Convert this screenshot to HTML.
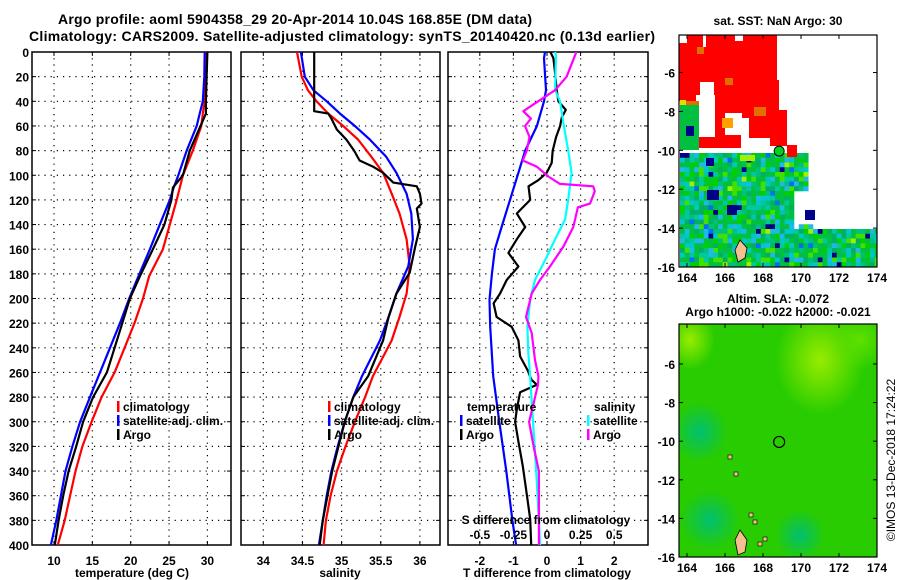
<!DOCTYPE html>
<html><head><meta charset="utf-8"><style>
html,body{margin:0;padding:0;background:#fff;}
svg{display:block;font-family:"Liberation Sans",Arial,sans-serif;font-weight:bold;}
</style></head><body>
<svg id="root" width="900" height="580" viewBox="0 0 900 580" xmlns="http://www.w3.org/2000/svg">
<defs>
<clipPath id="clip1"><rect x="679" y="35" width="198" height="232"/></clipPath>
<clipPath id="clip2"><rect x="679" y="324" width="198" height="233"/></clipPath>
</defs>
<text x="295" y="24" font-size="14" text-anchor="middle" textLength="474">Argo profile: aoml 5904358_29 20-Apr-2014 10.04S 168.85E (DM data)</text>
<text x="342" y="41" font-size="14" text-anchor="middle" textLength="626">Climatology: CARS2009. Satellite-adjusted climatology: synTS_20140420.nc (0.13d earlier)</text>
<g id="g"></g>
</svg>
<script>
// ---- Temperature panel data ----
const tDepth=[0,20,40,50,60,80,100,110,120,140,160,182,200,220,240,260,280,300,320,340,360,380,400];
const tClim=[29.9,29.8,29.65,29.4,29.2,28.1,26.8,26.4,26.0,25.1,24.2,22.4,21.6,20.5,19.2,17.9,16.2,14.9,13.7,12.8,12.1,11.4,10.5];
const tSat=[29.65,29.6,29.4,29.0,28.6,27.3,26.2,25.6,25.1,23.8,22.5,21.0,19.8,18.6,17.3,16.0,14.7,13.4,12.4,11.5,10.9,10.3,9.6];
const tArgo=[30.0,29.9,29.8,29.8,29.1,27.7,26.8,25.5,25.3,24.4,22.9,21.2,19.9,18.9,17.9,16.9,15.1,13.8,12.9,11.9,11.2,10.6,10.1];
const tTicks=[10,15,20,25,30];
// ---- Salinity panel data ----
const sDepth=[0,20,31,40,50,60,71,85,98,115,131,152,174,196,215,234,263,280,300,320,340,360,380,400];
const sClim=[34.43,34.49,34.57,34.68,34.83,35.02,35.21,35.38,35.53,35.64,35.74,35.83,35.87,35.83,35.74,35.64,35.4,35.3,35.17,35.05,34.94,34.86,34.8,34.77];
const sSat=[34.48,34.53,34.64,34.81,34.98,35.17,35.36,35.57,35.7,35.83,35.89,35.91,35.85,35.7,35.6,35.49,35.26,35.15,35.04,34.95,34.87,34.81,34.76,34.71];
const aDepth=[0,48,50,54,63,71,80,88,93,98,106,109,115,123,127,142,158,179,196,215,234,263,280,300,320,340,360,380,400];
const sArgo=[34.65,34.65,34.83,34.87,34.94,35.06,35.16,35.23,35.4,35.53,35.66,35.96,36.0,36.02,35.96,36.0,35.94,35.87,35.7,35.6,35.53,35.34,35.15,35.04,34.96,34.88,34.82,34.76,34.72];
const sTicks=[34,34.5,35,35.5,36];
const sTickLabels=["34","34.5","35","35.5","36"];
// ---- Difference panel data ----
const dDepth=[0,5,31,40,60,80,98,120,142,160,180,201,223,263,300,340,380,400];
const dTSat=[-0.06,-0.09,-0.03,-0.09,-0.3,-0.65,-0.85,-1.1,-1.35,-1.55,-1.64,-1.71,-1.69,-1.6,-1.42,-1.21,-1.03,-0.92];
const bDepth=[0,5,17,31,40,47,53,60,69,80,90,98,104,109,120,131,142,152,163,174,185,196,204,215,223,234,247,258,266,270,276,290,300,316,336,359,379,400];
const dTArgo=[0.1,0.19,0.24,0.29,0.34,0.56,0.44,0.39,0.27,0.17,0.14,-0.01,-0.26,-0.55,-0.5,-0.9,-0.65,-0.9,-1.15,-0.85,-1.2,-1.4,-1.59,-1.5,-1.05,-0.85,-0.8,-0.58,-0.46,-0.3,-0.8,-0.9,-0.95,-0.85,-0.72,-0.6,-0.5,-0.47];
const cDepth=[0,3,31,40,60,80,98,120,136,152,169,185,201,223,244,263,300,340,380,400];
const dSSat=[0.06,0.067,0.06,0.097,0.126,0.158,0.183,0.158,0.134,0.06,-0.015,-0.089,-0.126,-0.146,-0.139,-0.126,-0.104,-0.08,-0.06,-0.052];
const mDepth=[0,1,20,31,39,48,54,60,69,80,88,93,101,107,109,113,123,126,142,158,174,185,196,215,228,250,263,270,285,300,320,340,360,380,400];
const dSArgo=[0.215,0.215,0.146,0.06,-0.052,-0.176,-0.12,-0.163,-0.13,-0.15,-0.18,-0.077,0.01,0.097,0.344,0.356,0.32,0.23,0.196,0.121,0.022,-0.052,-0.114,-0.156,-0.114,-0.089,-0.064,-0.067,-0.1,-0.133,-0.1,-0.06,-0.06,-0.06,-0.06];
const dTicks=[-2,-1,0,1,2];
const dSTicks=[-0.5,-0.25,0,0.25,0.5];
const dSTickLabels=["-0.5","-0.25","0","0.25","0.5"];
const depthTicks=[0,20,40,60,80,100,120,140,160,180,200,220,240,260,280,300,320,340,360,380,400];
// ---- Map axes ----
const lonTicks=[164,166,168,170,172,174];
const latTicks1=[-6,-8,-10,-12,-14,-16];
const latTicks2=[-6,-8,-10,-12,-14,-16];
const floatLon=168.85, floatLat=-10.04;

const NS="http://www.w3.org/2000/svg";
const G=document.getElementById('g');
function mk(tag,attrs,parent,txt){const e=document.createElementNS(NS,tag);for(const k in attrs)e.setAttribute(k,attrs[k]);if(txt!==undefined)e.textContent=txt;(parent||G).appendChild(e);return e;}

const TOP=52,BOT=545;
const yD=d=>TOP+d*(BOT-TOP)/400;
const P1={l:32,r:231,x:v=>54+(v-10)*7.67};
const P2={l:241,r:440,x:v=>263.3+(v-34)*78.3};
const P3={l:448,r:648,x:v=>547+v*33.6};
const xS3=v=>547+v*134.4;

function frame(p,name){
  const g=mk('g',{});
  
  
  return g;
}
function grid(g,p,xt,fx){
  xt.forEach(v=>{const x=fx(v);mk('line',{x1:x,x2:x,y1:TOP,y2:BOT,stroke:'#000','stroke-width':1.2,'stroke-dasharray':'1.2,5'},g);
    mk('line',{x1:x,x2:x,y1:TOP,y2:TOP+4,stroke:'#000'},g);mk('line',{x1:x,x2:x,y1:BOT,y2:BOT-4,stroke:'#000'},g);});
  depthTicks.forEach(d=>{const y=yD(d);if(d>0&&d<400)mk('line',{x1:p.l,x2:p.r,y1:y,y2:y,stroke:'#000','stroke-width':1.2,'stroke-dasharray':'1.2,5'},g);
    mk('line',{x1:p.l,x2:p.l+4,y1:y,y2:y,stroke:'#000'},g);mk('line',{x1:p.r,x2:p.r-4,y1:y,y2:y,stroke:'#000'},g);});
  mk('rect',{x:p.l,y:TOP,width:p.r-p.l,height:BOT-TOP,fill:'none',stroke:'#000','stroke-width':1.5},g);
}
function line(g,xs,ds,fx,col,name){
  const pts=xs.map((v,i)=>fx(v).toFixed(1)+','+yD(ds[i]).toFixed(1)).join(' ');
  const e=mk('polyline',{points:pts,fill:'none',stroke:col,'stroke-width':2.2,'stroke-linejoin':'round'},g);
  
  
}
function legendItem(g,x,y,col,label,name){
  const it=mk('g',{},g);
  
  
  mk('rect',{x:x,y:y-10,width:2.5,height:11,fill:col},it);
  mk('text',{x:x+6,y:y,'font-size':12},it,label);
}

// Panel 1
const g1=frame(P1,'temperature-panel');
grid(g1,P1,tTicks,P1.x);
tTicks.forEach(v=>mk('text',{x:P1.x(v),y:565,'font-size':12,'text-anchor':'middle'},g1,String(v)));
depthTicks.forEach(d=>mk('text',{x:29,y:yD(d)+5,'font-size':12,'text-anchor':'end'},g1,String(d)));
line(g1,tClim,tDepth,P1.x,'#ff0000','temperature-climatology-line');
line(g1,tSat,tDepth,P1.x,'#0000ff','temperature-satellite-line');
line(g1,tArgo,tDepth,P1.x,'#000000','temperature-argo-line');
mk('text',{x:132,y:577,'font-size':12,'text-anchor':'middle'},g1,'temperature (deg C)');
legendItem(g1,117,411,'#ff0000','climatology','legend-climatology');
legendItem(g1,117,425,'#0000ff','satellite-adj. clim.','legend-satellite');
legendItem(g1,117,439,'#000000','Argo','legend-argo');

// Panel 2
const g2=frame(P2,'salinity-panel');
grid(g2,P2,sTicks,P2.x);
sTicks.forEach((v,i)=>mk('text',{x:P2.x(v),y:565,'font-size':12,'text-anchor':'middle'},g2,sTickLabels[i]));
line(g2,sClim,sDepth,P2.x,'#ff0000','salinity-climatology-line');
line(g2,sSat,sDepth,P2.x,'#0000ff','salinity-satellite-line');
line(g2,sArgo,aDepth,P2.x,'#000000','salinity-argo-line');
mk('text',{x:340,y:577,'font-size':12,'text-anchor':'middle'},g2,'salinity');
legendItem(g2,328,411,'#ff0000','climatology','legend-climatology-2');
legendItem(g2,328,425,'#0000ff','satellite-adj. clim.','legend-satellite-2');
legendItem(g2,328,439,'#000000','Argo','legend-argo-2');

// Panel 3
const g3=frame(P3,'difference-panel');
grid(g3,P3,dTicks,P3.x);
dTicks.forEach(v=>mk('text',{x:P3.x(v),y:565,'font-size':12,'text-anchor':'middle'},g3,String(v)));
line(g3,dTSat,dDepth,P3.x,'#0000ff','t-diff-satellite-line');
line(g3,dTArgo,bDepth,P3.x,'#000000','t-diff-argo-line');
line(g3,dSSat,cDepth,xS3,'#00ffff','s-diff-satellite-line');
line(g3,dSArgo,mDepth,xS3,'#ff00ff','s-diff-argo-line');
mk('text',{x:547,y:577,'font-size':12,'text-anchor':'middle'},g3,'T difference from climatology');
mk('text',{x:546,y:524,'font-size':12,'text-anchor':'middle'},g3,'S difference from climatology');
dSTicks.forEach((v,i)=>mk('text',{x:xS3(v),y:539,'font-size':12,'text-anchor':'middle'},g3,dSTickLabels[i]));
mk('text',{x:467,y:411,'font-size':12},g3,'temperature');
legendItem(g3,460,425,'#0000ff','satellite','legend-t-satellite');
legendItem(g3,460,439,'#000000','Argo','legend-t-argo');
mk('text',{x:594,y:411,'font-size':12},g3,'salinity');
legendItem(g3,587,425,'#00ffff','satellite','legend-s-satellite');
legendItem(g3,587,439,'#ff00ff','Argo','legend-s-argo');

// ---- Maps ----
function mapAxes(g,top,bot,lats,y0lat,name){
  const L=679,R=877;
  const mx=lon=>687+(lon-164)*19;
  const my=lat=>top+(y0lat-lat)*(bot-top)/(y0lat+16);
  mk('rect',{x:L,y:top,width:R-L,height:bot-top,fill:'none',stroke:'#000','stroke-width':1.2},g);
  lonTicks.forEach(v=>{const x=mx(v);mk('line',{x1:x,x2:x,y1:top,y2:top+4,stroke:'#000'},g);mk('line',{x1:x,x2:x,y1:bot,y2:bot-4,stroke:'#000'},g);
    mk('text',{x:x,y:bot+15,'font-size':12,'text-anchor':'middle'},g,String(v));});
  lats.forEach(v=>{const y=my(v);mk('line',{x1:L,x2:L+4,y1:y,y2:y,stroke:'#000'},g);mk('line',{x1:R,x2:R-4,y1:y,y2:y,stroke:'#000'},g);
    mk('text',{x:675,y:y+5,'font-size':12,'text-anchor':'end'},g,String(v));});
  return {mx,my};
}
// SST map
const gm1=mk('g',{});


const gm1c=mk('g',{'clip-path':'url(#clip1)'},gm1);
const pal=['#00c040','#00c8a0','#00c040','#00d000','#00b060','#00c8c8','#20b8e8','#00c080','#00c040','#40e000'];
function hash(i,j){let h=(i*374761393+j*668265263)^(i*j*7919);h=(h^(h>>13))*1274126177;return Math.abs(h^(h>>16));}
const cs=4.75;
for(let j=0;j<24;j++){for(let i=0;i<42;i++){
  const x=680+i*cs,y=153+j*cs;
  let ok=(x<807)||(y>=228&&x<876);
  if(x>=790&&x<807&&y>188&&y<228)ok=false;
  if(x>=797&&x<813&&y>=222&&y<230)ok=true;
  if(!ok)continue;
  const h=hash(i,j)%100;
  const c=h<2?'#000088':h<4?'#a0f000':h<7?'#0070f0':pal[h%pal.length];
  mk('rect',{x:x,y:y,width:cs+0.3,height:cs+0.3,fill:c},gm1c);
}}
[[707,190,12,10,'#000088'],[727,205,10,10,'#000088'],[706,158,8,8,'#000088'],[805,210,10,10,'#000088'],[740,155,15,6,'#a0f000']].forEach(r=>mk('rect',{x:r[0],y:r[1],width:r[2],height:r[3],fill:r[4]},gm1c));
mk('path',{d:'M679,35 H777 V80 H779 V110 H787 V146 H770 V138 H749 V118 H742 V113 H725 V135 H741 V148 H697 V137 H715 V95 H696 V101 H679 Z',fill:'#ff0000'},gm1c);
mk('rect',{x:679,y:35,width:8,height:8,fill:'#fff'},gm1c);
mk('rect',{x:703,y:35,width:3,height:12,fill:'#fff'},gm1c);
mk('rect',{x:735,y:35,width:8,height:6,fill:'#fff'},gm1c);
mk('rect',{x:700,y:82,width:14,height:14,fill:'#fff'},gm1c);
[[697,47,7,7,'#e07000'],[725,78,8,7,'#e07000'],[754,107,12,9,'#e07000'],[693,101,6,7,'#e07000'],[722,118,11,10,'#ffa000'],[680,100,6,6,'#e0e000'],[686,101,7,10,'#e07000']].forEach(r=>mk('rect',{x:r[0],y:r[1],width:r[2],height:r[3],fill:r[4]},gm1c));
mk('rect',{x:680,y:105,width:19,height:45,fill:'#00c040'},gm1c);
mk('rect',{x:686,y:126,width:8,height:10,fill:'#000088'},gm1c);
mk('rect',{x:787,y:145,width:10,height:12,fill:'#ff0000'},gm1c);
mk('path',{d:'M735,250 L740,240 L747,248 L745,258 L738,262 Z',fill:'#f5c090',stroke:'#000','stroke-width':0.8},gm1c);
const m1=mapAxes(gm1,35,267,latTicks1,-4.07,'sst');
mk('circle',{cx:m1.mx(floatLon),cy:m1.my(floatLat),r:5,fill:'#00d020',stroke:'#000','stroke-width':1},gm1);
mk('text',{x:778,y:25,'font-size':12,'text-anchor':'middle'},gm1,'sat. SST: NaN Argo: 30');

// SLA map
const gm2=mk('g',{});


const defs=mk('defs',{},gm2);
function rg(id,c){const r=mk('radialGradient',{id:id},defs);mk('stop',{offset:'0','stop-color':c,'stop-opacity':1},r);mk('stop',{offset:'1','stop-color':c,'stop-opacity':0},r);}
rg('yg','#98ec00');rg('tl','#00c070');rg('lg','#60e000');
const gm2c=mk('g',{'clip-path':'url(#clip2)'},gm2);
mk('rect',{x:679,y:324,width:198,height:233,fill:'#28cc00'},gm2c);
mk('ellipse',{cx:820,cy:360,rx:45,ry:55,fill:'url(#yg)'},gm2c);
mk('ellipse',{cx:690,cy:340,rx:25,ry:30,fill:'url(#yg)'},gm2c);
mk('ellipse',{cx:860,cy:340,rx:30,ry:30,fill:'url(#lg)'},gm2c);
mk('ellipse',{cx:700,cy:432,rx:28,ry:30,fill:'url(#tl)'},gm2c);
mk('ellipse',{cx:710,cy:520,rx:30,ry:30,fill:'url(#tl)'},gm2c);
mk('ellipse',{cx:800,cy:535,rx:25,ry:25,fill:'url(#tl)'},gm2c);
mk('path',{d:'M735,540 L740,530 L747,540 L745,552 L738,555 Z',fill:'#f5c090',stroke:'#000','stroke-width':0.8},gm2c);
[[728,455],[734,472],[749,513],[753,520],[758,542],[763,537]].forEach(p=>mk('rect',{x:p[0],y:p[1],width:4,height:4,fill:'#f5c090',stroke:'#000','stroke-width':0.6},gm2c));
const m2=mapAxes(gm2,324,557,latTicks2,-3.93,'sla');
mk('circle',{cx:m2.mx(floatLon),cy:m2.my(floatLat),r:5.5,fill:'none',stroke:'#000','stroke-width':1.2},gm2);
mk('text',{x:778,y:303,'font-size':12,'text-anchor':'middle'},gm2,'Altim. SLA: -0.072');
mk('text',{x:778,y:316,'font-size':12,'text-anchor':'middle'},gm2,'Argo h1000: -0.022 h2000: -0.021');
const cp=mk('text',{x:0,y:0,'font-size':12,'font-weight':'normal','text-anchor':'middle',transform:'translate(895,460) rotate(-90)'},G,'©IMOS 13-Dec-2018 17:24:22');


</script>
</body></html>
